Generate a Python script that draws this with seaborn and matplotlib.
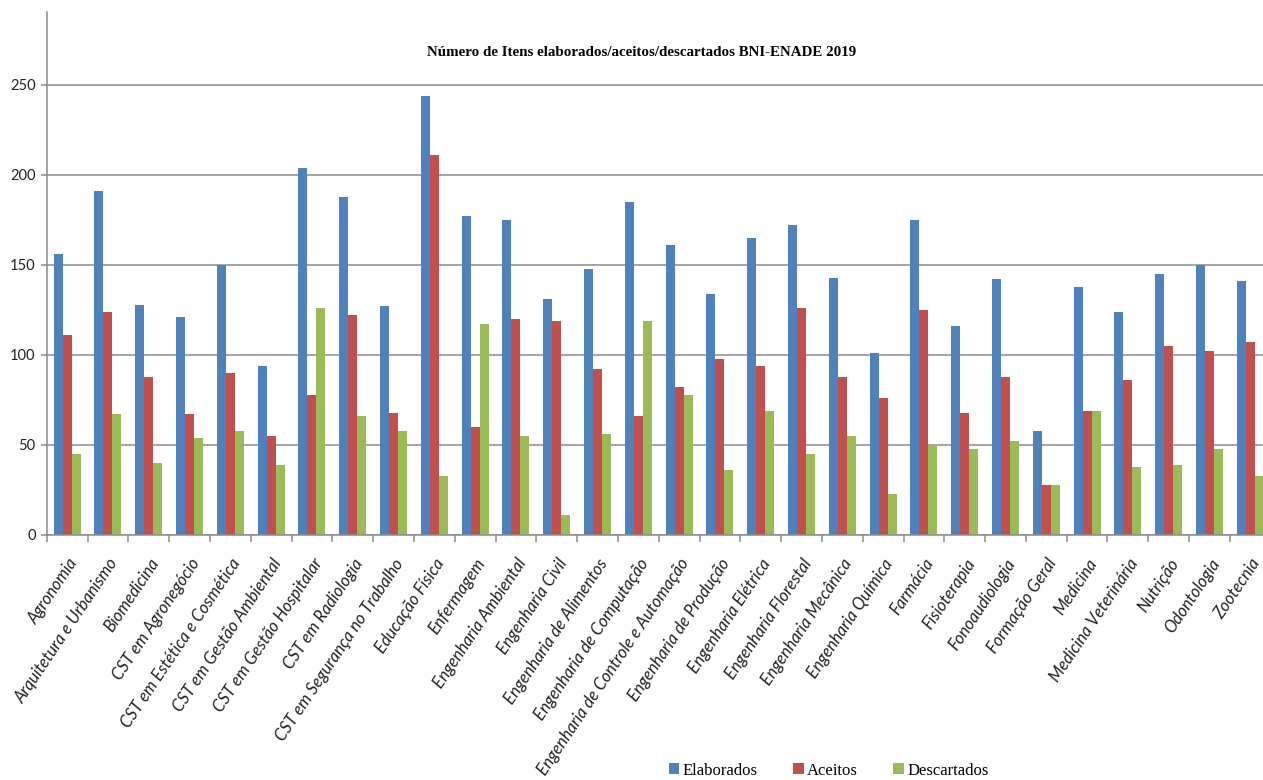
import pandas as pd
import seaborn as sns
from matplotlib import pyplot as plt
from matplotlib.ticker import MultipleLocator

# dados
cursos = [
    "Agronomia", "Arquitetura e Urbanismo", "Biomedicina", "CST em Agronegócio",
    "CST em Estética e Cosmética", "CST em Gestão Ambiental", "CST em Gestão Hospitalar",
    "CST em Radiologia", "CST em Segurança no Trabalho", "Educação Física", "Enfermagem",
    "Engenharia Ambiental", "Engenharia Civil", "Engenharia de Alimentos",
    "Engenharia de Computação", "Engenharia de Controle e Automação",
    "Engenharia de Produção", "Engenharia Elétrica", "Engenharia Florestal",
    "Engenharia Mecânica", "Engenharia Química", "Farmácia", "Fisioterapia",
    "Fonoaudiologia", "Formação Geral", "Medicina", "Medicina Veterinária", "Nutrição",
    "Odontologia", "Zootecnia",
]
elaborados = [156, 191, 128, 121, 150, 94, 204, 188, 127, 244, 177, 175, 131, 148,
              185, 161, 134, 165, 172, 143, 101, 175, 116, 142, 58, 138, 124, 145, 150, 141]
aceitos = [111, 124, 88, 67, 90, 55, 78, 122, 68, 211, 60, 120, 119, 92,
           66, 82, 98, 94, 126, 88, 76, 125, 68, 88, 28, 69, 86, 105, 102, 107]
descartados = [45, 67, 40, 54, 58, 39, 126, 66, 58, 33, 117, 55, 11, 56,
               119, 78, 36, 69, 45, 55, 23, 50, 48, 52, 28, 69, 38, 39, 48, 33]
series = ["Elaborados", "Aceitos", "Descartados"]
cores = ["#4F81BD", "#C0504D", "#9BBB59"]

df = pd.DataFrame({"curso": cursos, "Elaborados": elaborados,
                   "Aceitos": aceitos, "Descartados": descartados})
df = df.melt(id_vars="curso", value_vars=series, var_name="tipo", value_name="itens")

W, H = 1263, 780
fig = plt.figure(figsize=(W / 100, H / 100), dpi=100)
ax = fig.add_axes([46.7 / W, (H - 535) / H, (1270.7 - 46.7) / W, (535 - 12) / H])

sns.barplot(data=df, x="curso", y="itens", hue="tipo", hue_order=series,
            palette=cores, width=0.66, gap=0, linewidth=0, saturation=1,
            ax=ax, legend=True)

grid_cor = "#8c8c8c"
ax.set_xlim(-0.5, len(cursos) - 0.5)
ax.set_ylim(0, 290.5)
ax.yaxis.set_major_locator(MultipleLocator(50))
ax.set_axisbelow(True)
ax.grid(axis="y", color=grid_cor, linewidth=1.1)
ax.grid(axis="x", visible=False)
for s in ["top", "right"]:
    ax.spines[s].set_visible(False)
for s in ["left", "bottom"]:
    ax.spines[s].set_color(grid_cor)
    ax.spines[s].set_linewidth(1.1)

ax.set_xlabel("")
ax.set_ylabel("")
ax.set_xticks(range(len(cursos)))
ax.set_xticks([i - 0.5 for i in range(len(cursos) + 1)], minor=True)
ax.tick_params(axis="x", which="major", length=0, pad=15)
ax.tick_params(axis="x", which="minor", length=5, color=grid_cor, width=1.1)
ax.tick_params(axis="y", length=4, color=grid_cor, width=1.1, pad=4)
ax.set_xticklabels(cursos, rotation=56, ha="right", rotation_mode="anchor",
                   fontstyle="italic", family="Lato", fontsize=12, color="#222222")
for lab in ax.get_yticklabels():
    lab.set_family("Lato")
    lab.set_fontsize(10.5)
    lab.set_color("#222222")

ax.legend_.remove()
handles, labels = ax.get_legend_handles_labels()
fig.legend(handles, labels, loc="center", bbox_to_anchor=(0.656, 0.012), ncol=3,
           frameon=False, handlelength=0.65, handleheight=0.65, handletextpad=0.2,
           columnspacing=2.1, prop={"family": "Liberation Serif", "size": 12})

fig.text(0.508, 0.933, "Número de Itens elaborados/aceitos/descartados BNI-ENADE 2019",
         ha="center", va="center", family="Liberation Serif", fontweight="bold",
         fontsize=10.8)

fig.savefig("out.png", dpi=100)
